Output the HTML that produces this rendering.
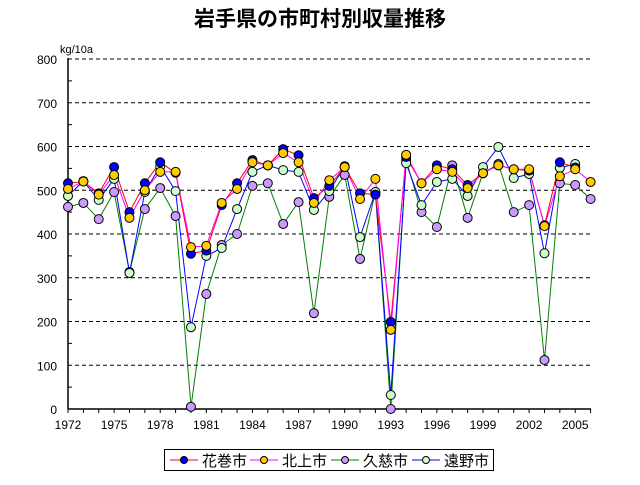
<!DOCTYPE html>
<html><head><meta charset="utf-8"><style>
html,body{margin:0;padding:0;background:#fff;width:640px;height:485px;overflow:hidden}
svg{display:block}
text{font-family:"Liberation Sans","Noto Sans CJK JP",sans-serif}
</style></head><body>
<svg id="s" width="640" height="485" xmlns="http://www.w3.org/2000/svg">
<text x="320" y="26" text-anchor="middle" font-size="21" font-weight="bold" font-family="'Noto Sans CJK JP',sans-serif">岩手県の市町村別収量推移</text>
<text x="60" y="53" font-size="11">kg/10a</text>
</svg>
<script>
var s=document.getElementById('s'),NS='http://www.w3.org/2000/svg';
function el(t,a,txt){var e=document.createElementNS(NS,t);for(var k in a)e.setAttribute(k,a[k]);if(txt!=null)e.textContent=txt;s.appendChild(e);return e;}
var X0=68,DX=15.37,Y0=409,K=0.4375;
function X(i){return X0+DX*i}function Y(v){return Y0-v*K}
for(var v=100;v<=800;v+=100){el('line',{x1:68,x2:591,y1:Y(v),y2:Y(v),stroke:'#000','stroke-dasharray':'4,3','stroke-width':1});}
for(var v=0;v<=800;v+=100){el('text',{x:57,y:Y(v)+5,'text-anchor':'end','font-size':12},v);}
for(var v=50;v<800;v+=100){el('line',{x1:68,x2:72,y1:Y(v),y2:Y(v),stroke:'#000'});}
el('line',{x1:68,x2:68,y1:58,y2:409,stroke:'#000','stroke-width':1.5});
el('line',{x1:68,x2:591,y1:409,y2:409,stroke:'#000','stroke-width':1.5});
for(var i=0;i<=34;i++){el('line',{x1:X(i),x2:X(i),y1:409,y2:413,stroke:'#000'});}
for(var i=0;i<=33;i+=3){el('text',{x:X(i),y:429,'text-anchor':'middle','font-size':12},1972+i);}
var ha=[516,520,493,553,450,516,564,540,355,362,466,516,569,557,594,580,482,510,553,493,490,199,576,516,557,548,512,539,557,548,545,420,564,552,null];
var ki=[503,520,490,535,437,500,542,542,370,373,471,503,564,557,585,564,471,523,553,480,526,181,581,516,548,542,505,539,557,548,548,418,532,548,519];
var ku=[462,471,434,496,313,457,505,441,5,263,375,400,510,516,423,473,219,485,535,343,496,0,569,450,416,557,437,539,560,450,466,112,516,512,480];
var to=[487,521,478,526,311,496,555,498,187,350,368,457,542,557,546,542,455,498,555,393,496,32,562,466,519,526,487,553,599,528,537,356,551,560,null];
var series=[[ku,'#008000','#cc99ff'],[to,'#0000ff','#ccffcc'],[ha,'#ff0000','#0000ff'],[ki,'#ff00ff','#ffcc00']];
series.forEach(function(sr){var d='';sr[0].forEach(function(v,i){if(v==null)return;d+=(d?'L':'M')+X(i).toFixed(1)+','+Y(v).toFixed(1);});el('path',{d:d,fill:'none',stroke:sr[1],'stroke-width':1});});
series.forEach(function(sr){sr[0].forEach(function(v,i){if(v==null)return;el('circle',{cx:X(i),cy:Y(v),r:4.5,fill:sr[2],stroke:'#000','stroke-width':1});});});
el('rect',{x:164.5,y:449.5,width:329,height:21,fill:'#fff',stroke:'#000','stroke-width':1});
var lg=[['花巻市','#ff0000','#0000ff',170],['北上市','#ff00ff','#ffcc00',250],['久慈市','#008000','#cc99ff',331],['遠野市','#0000ff','#ccffcc',412]];
lg.forEach(function(l){el('line',{x1:l[3],x2:l[3]+28,y1:460,y2:460,stroke:l[1]});el('circle',{cx:l[3]+14,cy:460,r:3.5,fill:l[2],stroke:'#000'});el('text',{x:l[3]+32,y:466,'font-size':15},l[0]);});
</script>
</body></html>
